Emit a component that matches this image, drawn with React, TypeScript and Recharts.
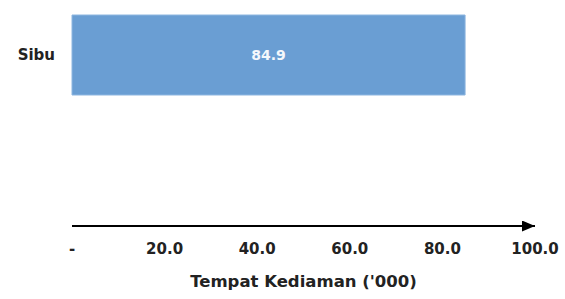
import React from 'react';
import { BarChart, Bar, XAxis, YAxis, LabelList } from 'recharts';

const categories = ['Sibu'];
const values = [84.9];
const xTicks = [0, 20, 40, 60, 80, 100];
const axisTitle = "Tempat Kediaman ('000)";

const data = categories.map((c, i) => ({ name: c, value: values[i] }));

const FONT = "'DejaVu Sans', sans-serif";

const XTick = (props: any) => {
  const { x, y, payload } = props;
  const v = payload.value as number;
  return (
    <text
      x={x}
      y={y}
      dy={28}
      textAnchor="middle"
      fill="#222"
      fontSize={15}
      fontWeight="bold"
      fontFamily={FONT}
    >
      {v === 0 ? '-' : v.toFixed(1)}
    </text>
  );
};

export default function App() {
  return (
    <div style={{ position: 'absolute', left: 0, top: 0, width: 565, height: 299, background: '#fff' }}>
      <style>{'body{margin:0}'}</style>
      <svg width={0} height={0} style={{ position: 'absolute' }}>
        <defs>
          <marker
            id="axisArrow"
            markerUnits="userSpaceOnUse"
            markerWidth={13}
            markerHeight={11}
            refX={13}
            refY={5.5}
            orient="auto"
          >
            <path d="M0,0 L13,5.5 L0,11 Z" fill="#000" />
          </marker>
        </defs>
      </svg>
      <BarChart
        width={565}
        height={299}
        data={data}
        layout="vertical"
        margin={{ top: 15, right: 30, left: 0, bottom: 0 }}
        barCategoryGap={0}
      >
        <XAxis
          type="number"
          domain={[0, 100]}
          ticks={xTicks}
          height={73}
          tickLine={false}
          tickSize={0}
          tickMargin={0}
          axisLine={{ stroke: '#000', strokeWidth: 2, markerEnd: 'url(#axisArrow)' }}
          tick={<XTick />}
          interval={0}
          label={{
            value: axisTitle,
            position: 'insideBottom',
            offset: 12,
            fill: '#222',
            fontSize: 16.5,
            fontWeight: 'bold',
            fontFamily: FONT,
          }}
        />
        <YAxis
          type="category"
          dataKey="name"
          width={72}
          axisLine={false}
          tickLine={false}
          tickSize={0}
          tickMargin={17}
          padding={{ top: 0, bottom: 131 }}
          tick={{ fill: '#222', fontSize: 15, fontWeight: 'bold', fontFamily: FONT }}
        />
        <Bar dataKey="value" fill="#6A9ED3" stroke="#8DB6E0" strokeWidth={1} isAnimationActive={false}>
          <LabelList
            dataKey="value"
            position="center"
            formatter={(v: any) => Number(v).toFixed(1)}
            fill="#F4F8FC"
            fontSize={14}
            fontWeight="bold"
            fontFamily={FONT}
          />
        </Bar>
      </BarChart>
    </div>
  );
}
